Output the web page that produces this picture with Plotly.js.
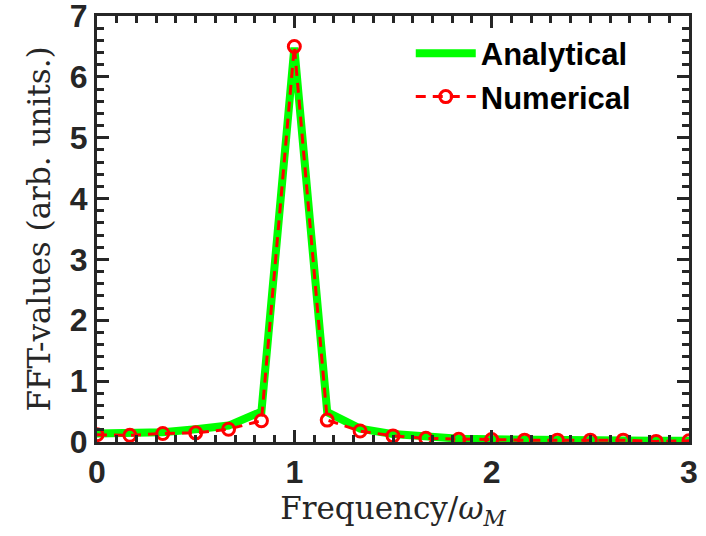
<!DOCTYPE html>
<html>
<head>
<meta charset="utf-8">
<script src="https://cdn.plot.ly/plotly-3.0.1.min.js"></script>
<style>html,body{margin:0;padding:0;background:#fff;}#plot{width:706px;height:536px;}</style>
</head>
<body>
<div id="plot"></div>
<script>
// Frequency in units of omega_M (step 1/6)
const freq = [0, 1/6, 2/6, 3/6, 4/6, 5/6, 1, 7/6, 8/6, 9/6, 10/6, 11/6, 2, 13/6, 14/6, 15/6, 16/6, 17/6, 3];
const analytical = [0.14, 0.15, 0.16, 0.21, 0.27, 0.50, 6.48, 0.49, 0.22, 0.13, 0.08, 0.055, 0.045, 0.035, 0.03, 0.03, 0.025, 0.02, 0.02];
const numerical  = [0.12, 0.11, 0.14, 0.15, 0.21, 0.35, 6.50, 0.36, 0.18, 0.10, 0.06, 0.045, 0.04, 0.03, 0.03, 0.03, 0.03, 0.01, 0.02];
const xTicks = [0, 1, 2, 3];
const yTicks = [0, 1, 2, 3, 4, 5, 6, 7];
const xRange = [0, 3];
const yRange = [0, 7];

const axisColor = '#262626';
const tickFont = {family: 'Liberation Sans, Arial, sans-serif', size: 32, color: axisColor, weight: 'bold'};
const titleFont = {family: 'DejaVu Serif, Liberation Serif, serif', size: 31, color: '#262626'};

const traces = [
  {
    x: freq, y: analytical, name: 'Analytical', type: 'scatter', mode: 'lines',
    line: {color: '#00ff00', width: 8}
  },
  {
    x: freq, y: numerical, name: 'Numerical', type: 'scatter', mode: 'lines+markers',
    line: {color: '#ff0000', width: 3, dash: '10px,7px'},
    marker: {symbol: 'circle-open', size: 12, color: '#ff0000', line: {width: 3, color: '#ff0000'}}
  }
];

function axis(range, vals, minorStep, title, standoff) {
  return {
    range: range, tickmode: 'array', tickvals: vals,
    showgrid: true, gridcolor: 'rgba(0,0,0,0)',
    zeroline: true, zerolinecolor: axisColor, zerolinewidth: 3,
    showline: true, linecolor: axisColor, linewidth: 3, mirror: 'ticks',
    ticks: 'inside', ticklen: 12, tickwidth: 3, tickcolor: axisColor,
    minor: {tickmode: 'linear', tick0: 0, dtick: minorStep, ticks: 'inside', ticklen: 7, tickwidth: 3, tickcolor: axisColor},
    tickfont: tickFont, ticklabeloverflow: 'allow',
    title: {text: title, font: titleFont, standoff: standoff}
  };
}

const layout = {
  width: 706, height: 536,
  margin: {l: 97, r: 17, t: 16, b: 94},
  showlegend: true,
  legend: {
    x: 0.53, y: 0.975, xanchor: 'left', yanchor: 'top',
    bgcolor: 'rgba(0,0,0,0)', borderwidth: 0,
    font: {family: 'Liberation Sans, Arial, sans-serif', size: 31, color: '#000', weight: 'bold'},
    itemwidth: 60, tracegroupgap: 0
  },
  xaxis: axis(xRange, xTicks, 0.1, 'Frequency/<i>ω<sub>M</sub></i>', 8),
  yaxis: axis(yRange, yTicks, 0.2, 'FFT-values (arb. units.)', 10)
};

Plotly.newPlot('plot', traces, layout, {displayModeBar: false, staticPlot: true});
</script>
</body>
</html>
